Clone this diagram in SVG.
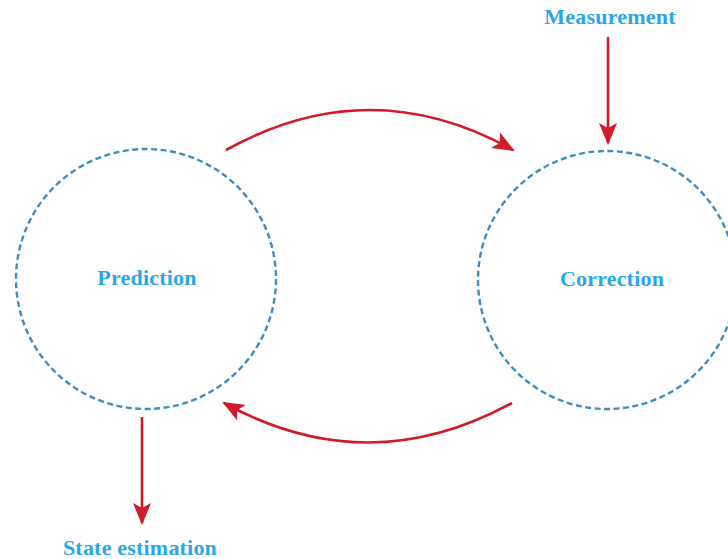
<svg xmlns="http://www.w3.org/2000/svg" width="728" height="559" viewBox="0 0 728 559">
<style>
.node{fill:none;stroke:#3d8dc0;stroke-width:2.4;stroke-dasharray:6 3.5}
.lbl{font-family:"Liberation Serif","Times New Roman",serif;font-weight:bold;font-size:22px;letter-spacing:0.2px;fill:#2aa8e6;text-anchor:middle}
.edge{fill:none;stroke:#d11a2a;stroke-width:2.6}
</style>
<defs>
<marker id="ah" viewBox="0 0 22 18" refX="20" refY="9" markerWidth="22" markerHeight="18" markerUnits="userSpaceOnUse" orient="auto">
<path d="M0,0 L22,9 L0,18 L5,9 Z" fill="#d11a2a"/>
</marker>
</defs>
<rect width="728" height="559" fill="#fff"/>
<g id="prediction">
<circle class="node" cx="146" cy="279" r="130"/>
<text class="lbl" x="147" y="285">Prediction</text>
</g>
<g id="correction">
<circle class="node" cx="607" cy="280" r="129"/>
<text class="lbl" x="612" y="286">Correction</text>
</g>
<g id="measurement">
<text class="lbl" x="610" y="24">Measurement</text>
</g>
<g id="state-estimation">
<text class="lbl" x="140" y="555">State estimation</text>
</g>
<g id="connectors">
<path class="edge" d="M226,150 Q370,70 513,150" marker-end="url(#ah)"/>
<path class="edge" d="M512,403 Q368,482 224,403" marker-end="url(#ah)"/>
<path class="edge" d="M608,37 L608,143" marker-end="url(#ah)"/>
<path class="edge" d="M142,417 L142,523" marker-end="url(#ah)"/>
</g>
</svg>
